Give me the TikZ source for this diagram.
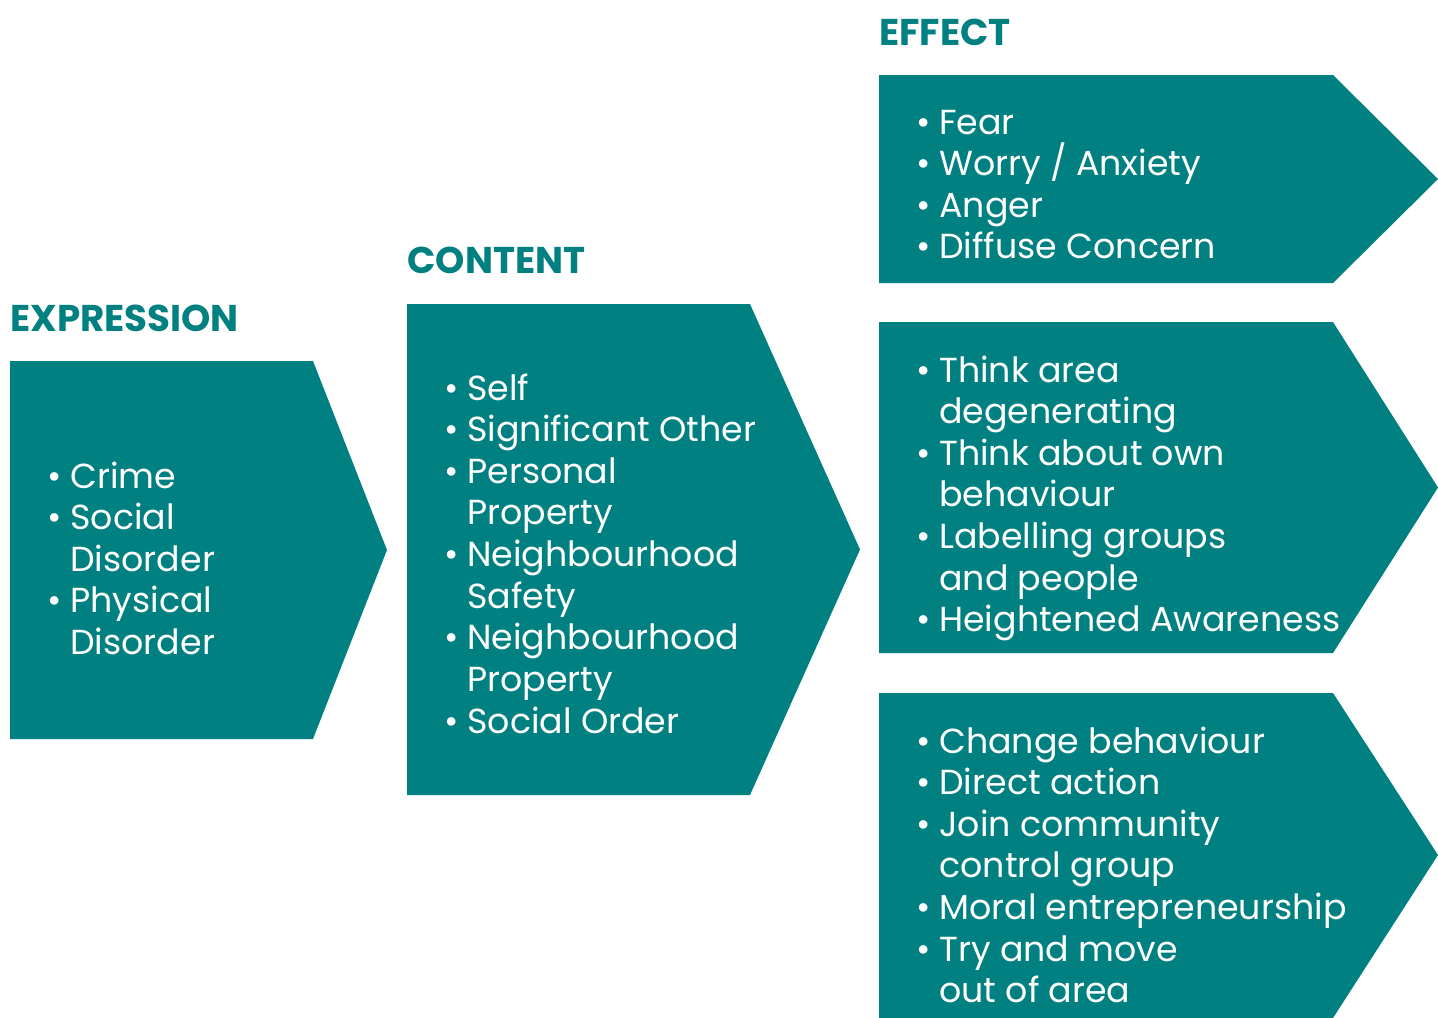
\documentclass[tikz,border=0pt]{standalone}
\usepackage{fontspec}
\setmainfont{Poppins}
\definecolor{boxteal}{HTML}{008080}
\tikzset{
  box/.style={fill=boxteal},
  title/.style={anchor=base west, inner sep=0pt, text=boxteal, font=\fontsize{21.2}{25}\selectfont\bfseries},
  items/.style={anchor=base west, inner sep=0pt, text=white, font=\fontsize{19.8}{23.7}\selectfont}
}
\newcommand{\bul}{\makebox[13.1pt][l]{•}}
\begin{document}
\begin{tikzpicture}[x=0.02cm,y=-0.02cm]
  \useasboundingbox (0,0) rectangle (1438,1018);
  % arrow shapes
  \fill[box] (10,361) -- (313,361) -- (387,550) -- (313,739) -- (10,739) -- cycle;
  \fill[box] (407,304) -- (750,304) -- (860,549.5) -- (750,795) -- (407,795) -- cycle;
  \fill[box] (879,75) -- (1333,75) -- (1438,179) -- (1333,283) -- (879,283) -- cycle;
  \fill[box] (879,322) -- (1333,322) -- (1438,487.5) -- (1333,653) -- (879,653) -- cycle;
  \fill[box] (879,693) -- (1333,693) -- (1438,855) -- (1333,1018) -- (879,1018) -- cycle;
  % headings
  \node[title] (expr) at (10,331) {EXPRESSION};
  \node[title] (cont) at (407,273) {CONTENT};
  \node[title] (eff) at (879,45) {EFFECT};
  % lists
  \node[items] (exprlist) at (47,488) {\begin{tabular}[t]{@{}l@{}l@{}}
    \bul & Crime\\
    \bul & Social\\
         & Disorder\\
    \bul & Physical\\
         & Disorder
  \end{tabular}};
  \node[items] (contlist) at (444,400) {\begin{tabular}[t]{@{}l@{}l@{}}
    \bul & Self\\
    \bul & Significant Other\\
    \bul & Personal\\
         & Property\\
    \bul & Neighbourhood\\
         & Safety\\
    \bul & Neighbourhood\\
         & Property\\
    \bul & Social Order
  \end{tabular}};
  \node[items] (efflistA) at (916,134) {\begin{tabular}[t]{@{}l@{}l@{}}
    \bul & Fear\\
    \bul & Worry \smash{/} Anxiety\\
    \bul & Anger\\
    \bul & Diffuse Concern
  \end{tabular}};
  \node[items] (efflistB) at (916,382) {\begin{tabular}[t]{@{}l@{}l@{}}
    \bul & Think area\\
         & degenerating\\
    \bul & Think about own\\
         & behaviour\\
    \bul & Labelling groups\\
         & and people\\
    \bul & Heightened Awareness
  \end{tabular}};
  \node[items] (efflistC) at (916,753) {\begin{tabular}[t]{@{}l@{}l@{}}
    \bul & Change behaviour\\
    \bul & Direct action\\
    \bul & Join community\\
         & control group\\
    \bul & Moral entrepreneurship\\
    \bul & Try and move\\
         & out of area
  \end{tabular}};
\end{tikzpicture}
\end{document}
